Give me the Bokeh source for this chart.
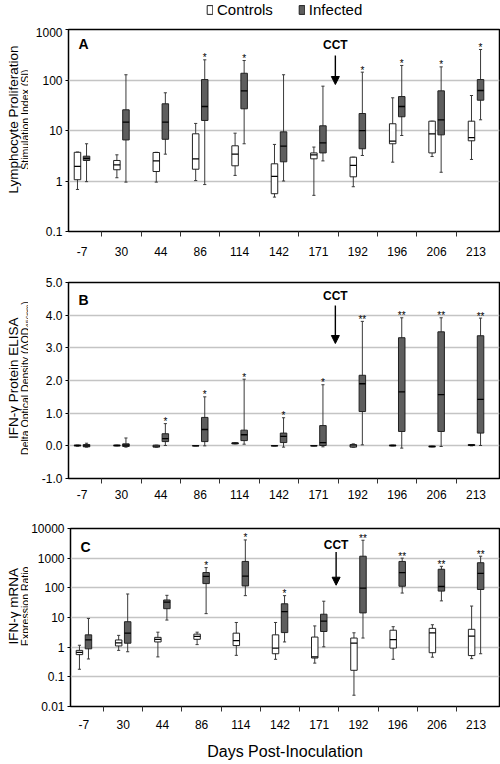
import math
from bokeh.plotting import figure
from bokeh.models import (Range1d, FixedTicker, CustomJSTickFormatter, NumeralTickFormatter,
                          Arrow, NormalHead, Legend, LegendItem, ColumnDataSource)
from bokeh.layouts import column, row
from bokeh.core.properties import value
from bokeh.embed import file_html
from bokeh.resources import INLINE

FONT = "Liberation Sans"

days = ["-7", "30", "44", "86", "114", "142", "171", "192", "196", "206", "213"]

# ---------------- Panel A: lymphocyte proliferation (SI) ----------------
a_ctrl_min = [0.68, 1.16, 0.95, 1.02, 1.29, 0.48, 0.52, 0.77, 2.36, 3.05, 2.67]
a_ctrl_q1  = [1.06, 1.67, 1.54, 1.71, 2.0, 0.56, 2.75, 1.21, 5.46, 3.6, 6.25]
a_ctrl_med = [1.94, 2.09, 2.5, 2.75, 3.4, 1.23, 3.3, 2.03, 6.15, 8.6, 7.2]
a_ctrl_q3  = [3.7, 2.55, 3.67, 8.6, 4.98, 2.19, 3.6, 2.96, 13.6, 15.3, 15.3]
a_ctrl_max = [3.75, 3.3, 3.7, 13.8, 8.85, 5.3, 4.7, 2.96, 44.4, 15.3, 49.3]

a_inf_min = [0.97, 0.95, 3.4, 0.85, 5.46, 1.0, 2.5, 3.2, 7.96, 1.49, 16.3]
a_inf_q1  = [2.55, 6.5, 6.7, 15.8, 26.9, 2.4, 3.6, 4.35, 18.7, 8.2, 39.8]
a_inf_med = [2.8, 14.6, 14.6, 29.9, 61, 4.9, 5.7, 9.9, 29.9, 16.3, 62]
a_inf_q3  = [3.1, 25.7, 33.8, 102, 136, 9.4, 12.4, 21.7, 47, 61, 102]
a_inf_max = [5.46, 127, 55.8, 251, 243, 127, 75.5, 143, 194, 182, 402]
a_stars = ["", "", "", "*", "*", "", "", "*", "*", "*", "*"]
a_ticks = [0.1, 1, 10, 100, 1000]

# ---------------- Panel B: IFN-gamma protein ELISA ----------------
b_ctrl_min = [-0.01, 0.0, -0.05, 0.0, 0.06, 0.0, 0.0, -0.05, 0.0, -0.03, 0.0]
b_ctrl_q1  = [0.0, 0.0, -0.04, 0.0, 0.06, 0.0, 0.0, -0.04, 0.0, -0.03, 0.01]
b_ctrl_med = [0.01, 0.01, -0.01, 0.0, 0.08, 0.0, 0.0, 0.0, 0.01, -0.02, 0.02]
b_ctrl_q3  = [0.02, 0.02, 0.02, 0.01, 0.09, 0.01, 0.01, 0.04, 0.02, -0.01, 0.04]
b_ctrl_max = [0.02, 0.02, 0.02, 0.01, 0.09, 0.01, 0.01, 0.06, 0.02, -0.01, 0.04]

b_inf_min = [-0.04, -0.04, 0.01, 0.0, 0.05, -0.04, -0.03, 0.03, -0.07, -0.02, 0.01]
b_inf_q1  = [-0.03, -0.02, 0.13, 0.13, 0.16, 0.1, 0.01, 1.05, 0.44, 0.44, 0.39]
b_inf_med = [0.0, 0.02, 0.22, 0.5, 0.34, 0.29, 0.1, 1.9, 1.65, 1.57, 1.42]
b_inf_q3  = [0.04, 0.06, 0.37, 0.87, 0.48, 0.39, 0.62, 2.16, 3.31, 3.49, 3.37]
b_inf_max = [0.08, 0.24, 0.68, 1.5, 2.04, 0.86, 1.87, 3.81, 3.92, 3.92, 3.91]
b_stars = ["", "", "*", "*", "*", "*", "*", "**", "**", "**", "**"]
b_ticks = [-1, 0, 1, 2, 3, 4, 5]

# ---------------- Panel C: IFN-gamma mRNA ----------------
c_ctrl_min = [0.18, 0.78, 0.47, 1.22, 0.53, 0.39, 0.29, 0.024, 0.39, 0.46, 0.41]
c_ctrl_q1  = [0.56, 1.1, 1.5, 1.84, 1.13, 0.60, 0.43, 0.166, 0.93, 0.65, 0.52]
c_ctrl_med = [0.67, 1.39, 1.84, 2.3, 1.66, 0.93, 0.47, 1.36, 1.79, 3.05, 2.36]
c_ctrl_q3  = [0.78, 1.75, 2.14, 2.75, 2.97, 2.6, 2.19, 2.03, 3.73, 4.3, 4.0]
c_ctrl_max = [1.16, 2.5, 3.2, 3.2, 6.8, 6.8, 5.2, 3.05, 4.9, 5.7, 24.3]

c_inf_min = [0.40, 0.70, 8.2, 13.5, 54.5, 1.5, 1.03, 2.03, 66.7, 36.3, 0.60]
c_inf_q1  = [0.88, 1.36, 19.8, 139, 116, 3.1, 3.37, 14.3, 113, 77.6, 88]
c_inf_med = [1.75, 2.97, 32.8, 242, 249, 15.8, 7.6, 97.5, 328, 111, 305]
c_inf_q3  = [2.6, 7.2, 39, 328, 776, 29, 12.9, 1164, 776, 423, 702]
c_inf_max = [9.3, 62, 55.9, 480, 4120, 54.5, 35.4, 4020, 1000, 531, 1164]
c_stars = ["", "", "", "*", "*", "*", "", "**", "**", "**", "**"]
c_ticks = [0.01, 0.1, 1, 10, 100, 1000, 10000]

cct_day_pos = 6.43  # CCT applied between day 171 and day 192

# ---------------- layout constants ----------------
TW = 28            # width of the y-title strip
W = 472            # main figure width
LEFT = 40
RIGHT = 1
XS, XE = -0.343, 10.596
OFF = 0.115
BW = 0.165
CW = 0.08
FILL_INF = "#5e5e5e"
WHISK = "#3a3a3a"


def make_panel(height, top, bottom, ylo, yhi, log, ticks, grid_ticks, label_standoff):
    p = figure(width=W, height=height, output_backend="svg", toolbar_location=None,
               x_range=Range1d(XS, XE), y_range=Range1d(ylo, yhi),
               y_axis_type="log" if log else "linear",
               min_border_left=LEFT, min_border_right=RIGHT,
               min_border_top=top, min_border_bottom=bottom)
    p.outline_line_color = "black"
    p.outline_line_width = 1.5
    p.outline_line_alpha = 1
    p.xgrid.visible = False
    p.ygrid.ticker = FixedTicker(ticks=grid_ticks)
    p.ygrid.grid_line_color = "#c4c4c4"
    p.ygrid.grid_line_width = 1.3

    ya = p.yaxis[0]
    ya.ticker = FixedTicker(ticks=ticks)
    if log:
        ya.formatter = CustomJSTickFormatter(code="return tick.toString()")
    else:
        ya.formatter = NumeralTickFormatter(format="0.0")
    ya.axis_line_color = None
    ya.major_tick_out = 3
    ya.major_tick_in = 0
    ya.major_tick_line_color = "black"
    ya.minor_tick_line_color = None
    ya.major_label_standoff = 3
    ya.major_label_text_font = FONT
    ya.major_label_text_font_size = "12px"
    ya.major_label_text_color = "black"

    xa = p.xaxis[0]
    xa.ticker = FixedTicker(ticks=list(range(len(days))),
                            minor_ticks=[i + 0.5 for i in range(len(days) - 1)])
    xa.formatter = CustomJSTickFormatter(args=dict(labels=days),
                                         code="return labels[Math.round(tick)]")
    xa.axis_line_color = None
    xa.major_tick_out = 0
    xa.major_tick_in = 0
    xa.minor_tick_out = 5
    xa.minor_tick_in = 0
    xa.minor_tick_line_color = "#333333"
    xa.major_label_standoff = label_standoff
    xa.major_label_text_font = FONT
    xa.major_label_text_font_size = "12px"
    xa.major_label_text_color = "black"
    return p


def title_strip(height, top, bottom, main, sub):
    t = figure(width=TW, height=height, output_backend="svg", toolbar_location=None,
               x_range=Range1d(0, TW), y_range=Range1d(0, height),
               x_axis_location=None, y_axis_location=None,
               min_border_left=0, min_border_right=0, min_border_top=0, min_border_bottom=0)
    t.outline_line_color = None
    t.grid.visible = False
    ymid = bottom + (height - top - bottom) / 2
    t.text(x=[12.8], y=[ymid], text=[main], angle=math.pi / 2, text_align="center",
           text_baseline="alphabetic", text_font=value(FONT), text_font_size="13.5px",
           text_color="black")
    t.text(x=[24.0], y=[ymid], text=[sub], angle=math.pi / 2, text_align="center",
           text_baseline="alphabetic", text_font=value(FONT), text_font_size="10.5px",
           text_color="black")
    return t


def draw_group(p, shift, lo, q1, md, q3, hi, fill):
    xs = [i + shift for i in range(len(days))]
    src = ColumnDataSource(dict(
        x=xs, lo=lo, q1=q1, md=md, q3=q3, hi=hi,
        cl=[x - CW / 2 for x in xs], cr=[x + CW / 2 for x in xs],
        ml=[x - BW / 2 for x in xs], mr=[x + BW / 2 for x in xs]))
    p.segment(x0="x", y0="lo", x1="x", y1="hi", source=src, line_color=WHISK, line_width=1)
    p.segment(x0="cl", y0="lo", x1="cr", y1="lo", source=src, line_color=WHISK, line_width=1)
    p.segment(x0="cl", y0="hi", x1="cr", y1="hi", source=src, line_color=WHISK, line_width=1)
    r = p.vbar(x="x", width=BW, bottom="q1", top="q3", source=src,
               fill_color=fill, line_color="#222222", line_width=1)
    p.segment(x0="ml", y0="md", x1="mr", y1="md", source=src, line_color="black", line_width=1.3)
    return r


def decorate(p, letter, ytop, ypx, stars, hi, letter_dy, cct_dy, arrow_from, arrow_to):
    sx = [i + OFF for i, s in enumerate(stars) if s]
    sy = [hi[i] for i, s in enumerate(stars) if s]
    st = [s for s in stars if s]
    p.text(x=sx, y=sy, text=st, text_align="center", text_baseline="alphabetic",
           y_offset=-2, text_font=value(FONT), text_font_size="10px", text_color="black")
    p.text(x=[XS], y=[ytop], text=[letter], x_offset=10, y_offset=letter_dy,
           text_baseline="middle", text_align="left", text_font=value(FONT),
           text_font_style="bold", text_font_size="14px", text_color="black")
    p.text(x=[cct_day_pos], y=[ytop], text=["CCT"], y_offset=cct_dy,
           text_baseline="middle", text_align="center", text_font=value(FONT),
           text_font_style="bold", text_font_size="12px", text_color="black")
    p.add_layout(Arrow(end=NormalHead(size=8, fill_color="black", line_color="black"),
                       x_start=cct_day_pos, y_start=ypx(arrow_from),
                       x_end=cct_day_pos, y_end=ypx(arrow_to),
                       line_color="black", line_width=1.4))


# ---------------- legend strip ----------------
LG_H = 27
lg = figure(width=TW + W, height=LG_H, output_backend="svg", toolbar_location=None,
            x_range=Range1d(0, 1), y_range=Range1d(0, 1),
            x_axis_location=None, y_axis_location=None,
            min_border_left=0, min_border_right=0, min_border_top=0, min_border_bottom=0)
lg.outline_line_color = None
lg.grid.visible = False
lc = lg.vbar(x=[5], width=0.1, top=[1], fill_color="white", line_color="#222222")
li = lg.vbar(x=[5], width=0.1, top=[1], fill_color=FILL_INF, line_color="#222222")
leg = Legend(items=[LegendItem(label="Controls", renderers=[lc]),
                    LegendItem(label="Infected", renderers=[li])],
             orientation="horizontal", location=(206, LG_H - 18),
             glyph_width=7, glyph_height=11, label_standoff=4, spacing=25,
             label_height=16, padding=0, margin=0, border_line_color=None,
             background_fill_alpha=0,
             label_text_font=FONT, label_text_font_size="15px", label_text_color="black")
lg.add_layout(leg, "center")

# ---------------- Panel A ----------------
A_H, A_T, A_B = 231, 2, 27
pA = make_panel(A_H, A_T, A_B, 0.1, 1000, True, a_ticks, [1, 10, 100], 10)
draw_group(pA, -OFF, a_ctrl_min, a_ctrl_q1, a_ctrl_med, a_ctrl_q3, a_ctrl_max, "white")
draw_group(pA, OFF, a_inf_min, a_inf_q1, a_inf_med, a_inf_q3, a_inf_max, FILL_INF)
a_fh = A_H - A_T - A_B
decorate(pA, "A", 1000, lambda px: 10 ** (3 - px * 4 / a_fh), a_stars, a_inf_max,
         14, 15, 26, 55)
tA = title_strip(A_H, A_T, A_B, "Lymphocyte Proliferation", "Stimulation Index (SI)")

# ---------------- Panel B ----------------
B_H, B_T, B_B = 250, 24, 30
pB = make_panel(B_H, B_T, B_B, -1, 5, False, b_ticks, [0, 1, 2, 3, 4], 6)
draw_group(pB, -OFF, b_ctrl_min, b_ctrl_q1, b_ctrl_med, b_ctrl_q3, b_ctrl_max, "white")
draw_group(pB, OFF, b_inf_min, b_inf_q1, b_inf_med, b_inf_q3, b_inf_max, FILL_INF)
b_fh = B_H - B_T - B_B
decorate(pB, "B", 5, lambda px: 5 - px * 6 / b_fh, b_stars, b_inf_max, 17, 13, 23, 61)
tB = title_strip(B_H, B_T, B_B, "IFN-\u03b3 Protein ELISA",
                 "Delta Optical Density (\u0394OD\u2084\u2085\u2080\u2099\u2098)")

# ---------------- Panel C ----------------
C_H, C_T, C_B = 254, 20, 52
pC = make_panel(C_H, C_T, C_B, 0.01, 10000, True, c_ticks, [0.1, 1, 10, 100, 1000], 8)
draw_group(pC, -OFF, c_ctrl_min, c_ctrl_q1, c_ctrl_med, c_ctrl_q3, c_ctrl_max, "white")
draw_group(pC, OFF, c_inf_min, c_inf_q1, c_inf_med, c_inf_q3, c_inf_max, FILL_INF)
c_fh = C_H - C_T - C_B
decorate(pC, "C", 10000, lambda px: 10 ** (4 - px * 6 / c_fh), c_stars, c_inf_max,
         18, 16, 24, 58)
pC.xaxis[0].axis_label = "Days Post-Inoculation"
pC.xaxis[0].axis_label_text_font = FONT
pC.xaxis[0].axis_label_text_font_size = "16px"
pC.xaxis[0].axis_label_text_font_style = "normal"
pC.xaxis[0].axis_label_text_color = "black"
pC.xaxis[0].axis_label_standoff = 11
tC = title_strip(C_H, C_T, C_B, "IFN-\u03b3 mRNA", "Expression Ratio")

layout = column(lg, row(tA, pA, spacing=0), row(tB, pB, spacing=0),
                row(tC, pC, spacing=0), spacing=0)
open("out.html", "w").write(file_html(layout, INLINE))
